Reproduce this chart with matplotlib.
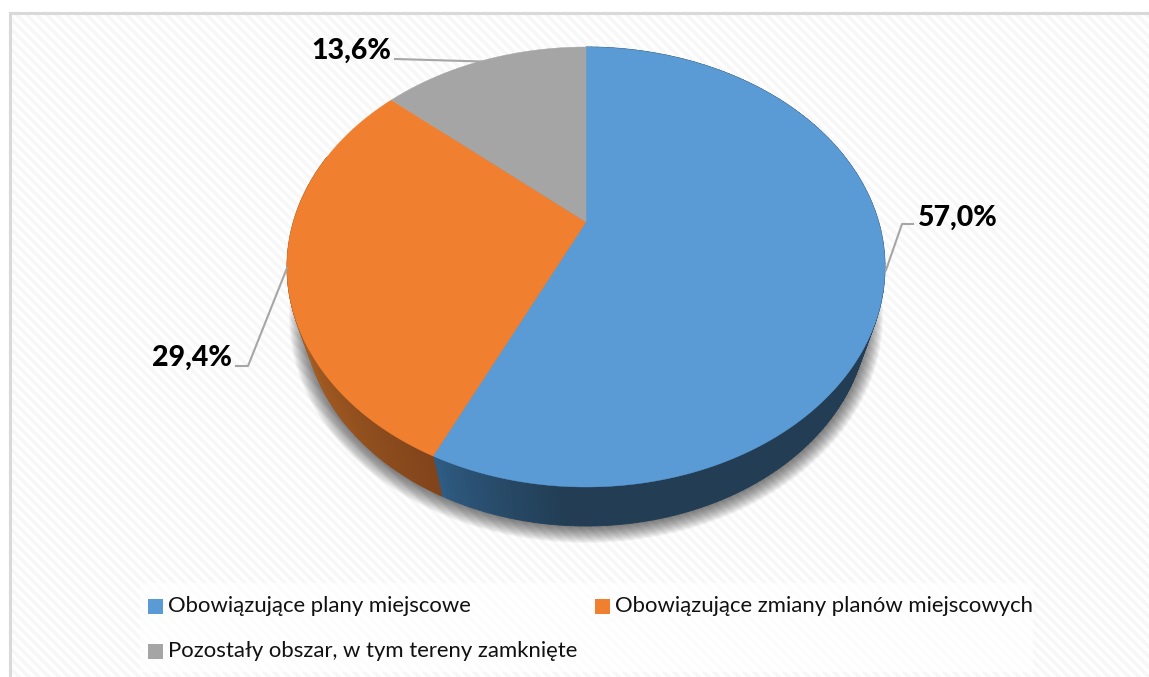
import numpy as np
import matplotlib
matplotlib.use("Agg")
import matplotlib.pyplot as plt
from matplotlib.patches import Ellipse, Polygon, Rectangle
from matplotlib.collections import PolyCollection
from matplotlib.colors import to_rgb

categories = ["Obowiązujące plany miejscowe",
              "Obowiązujące zmiany planów miejscowych",
              "Pozostały obszar, w tym tereny zamknięte"]
values = [57.0, 29.4, 13.6]
colors = ["#5b9bd5", "#f07f30", "#a5a5a5"]

plt.rcParams['font.family'] = ['Lato', 'DejaVu Sans']

# pie geometry in pixels
cx, cy, rx, ry = 586, 267, 299, 220
bot_cy, bot_rx, bot_ry = 313, 282, 213
tilt = 45 / 220  # apex sits above the middle of the ellipse


def face_phi(theta):
    # angle on the pie -> angle on the drawn ellipse, with the perspective shift
    X, Y = np.sin(theta), np.cos(theta)
    d = 1 + tilt * Y
    return np.arctan2(X * np.sqrt(1 - tilt ** 2) / d, (Y + tilt) / d) % (2 * np.pi)


def top_pt(phi):
    return cx + rx * np.sin(phi), cy - ry * np.cos(phi)


def bot_pt(phi):
    return cx + bot_rx * np.sin(phi), bot_cy - bot_ry * np.cos(phi)


def mix(a, b, t):
    a, b = np.array(to_rgb(a)), np.array(to_rgb(b))
    return a + (b - a) * t


fig = plt.figure(figsize=(11.49, 6.77), dpi=100)
ax = fig.add_axes([0, 0, 1, 1])
ax.set_xlim(0, 1149)
ax.set_ylim(677, 0)
ax.axis('off')

# striped background
xx, yy = np.meshgrid(np.arange(1149), np.arange(677))
stripes = np.where((xx - yy) % 10 < 5, 0.965, 1.0)
stripes[:12, :] = 1.0
stripes[:, :9] = 1.0
ax.imshow(stripes, cmap='gray', vmin=0, vmax=1, extent=(0, 1149, 677, 0), aspect='auto', zorder=0)
ax.plot([10, 10], [13, 677], color="#d9d9d9", lw=2.2, zorder=1)
ax.plot([10, 1149], [13, 13], color="#d9d9d9", lw=2.2, zorder=1)

# soft shadow under the pie
for grow in np.linspace(13, -4, 17):
    ax.add_patch(Ellipse((cx, bot_cy + 4), 2 * (bot_rx + grow + 2), 2 * (bot_ry + grow),
                         fc='black', ec='none', alpha=0.04, zorder=2))

# wedge limits from the values
frac = np.cumsum([0] + values) / sum(values)
thetas = frac * 2 * np.pi
phis = [face_phi(t) for t in thetas[:-1]] + [2 * np.pi]
phis[0] = 0.0

# side wall, blue then orange
quads, quad_cols = [], []
wall = [(phis[0], phis[1], "#30608a", "#223d54", 440, 570),
        (phis[1], np.radians(300), "#a85f24", "#82441a", 310, 440)]
for start, end, c0, c1, x0, x1 in wall:
    grid = np.linspace(start, end, 200)
    for a, b in zip(grid[:-1], grid[1:]):
        ta, tb = top_pt(a), top_pt(b)
        ba, bb = bot_pt(a), bot_pt(b)
        quads.append([ta, tb, bb, ba])
        t = np.clip((ba[0] - x0) / (x1 - x0), 0, 1) ** 0.7
        quad_cols.append(mix(c0, c1, t))
ax.add_collection(PolyCollection(quads, facecolors=quad_cols, edgecolors=quad_cols, linewidths=0.6, zorder=3))

# top face
apex = (cx, cy - tilt * ry)
for i in range(3):
    grid = np.linspace(phis[i], phis[i + 1], 200)
    pts = [apex] + [top_pt(p) for p in grid]
    ax.add_patch(Polygon(pts, closed=True, fc=colors[i], ec=colors[i], lw=0.3, zorder=4))

# leader lines
ax.plot([886, 902, 913], [270, 224, 224], color="#a6a6a6", lw=1.5, zorder=5)
ax.plot([287, 248, 236], [268, 366, 366], color="#a6a6a6", lw=1.5, zorder=5)
ax.plot([395, 482], [59, 61.5], color="#a6a6a6", lw=1.5, zorder=5)

# data labels
label_pos = [(958, 218), (192, 358), (351, 51)]
for v, (lx, ly) in zip(values, label_pos):
    ax.text(lx, ly, f"{v:.1f}".replace('.', ',') + "%", fontsize=20.5, fontweight=900,
            color='black', ha='center', va='center', zorder=6)

# legend
ax.add_patch(Rectangle((140, 583), 893, 89, fc='white', ec='none', alpha=0.7, zorder=5))
leg_pos = [(148, 606), (595, 606), (148, 651)]
for name, col, (lx, ly) in zip(categories, colors, leg_pos):
    ax.add_patch(Rectangle((lx, ly - 7.5), 15, 15, fc=col, ec='none', zorder=6))
    ax.text(lx + 20, ly, name, fontsize=15.9, color='#111111', ha='left', va='center', zorder=6)

plt.savefig("out.png", dpi=100)
